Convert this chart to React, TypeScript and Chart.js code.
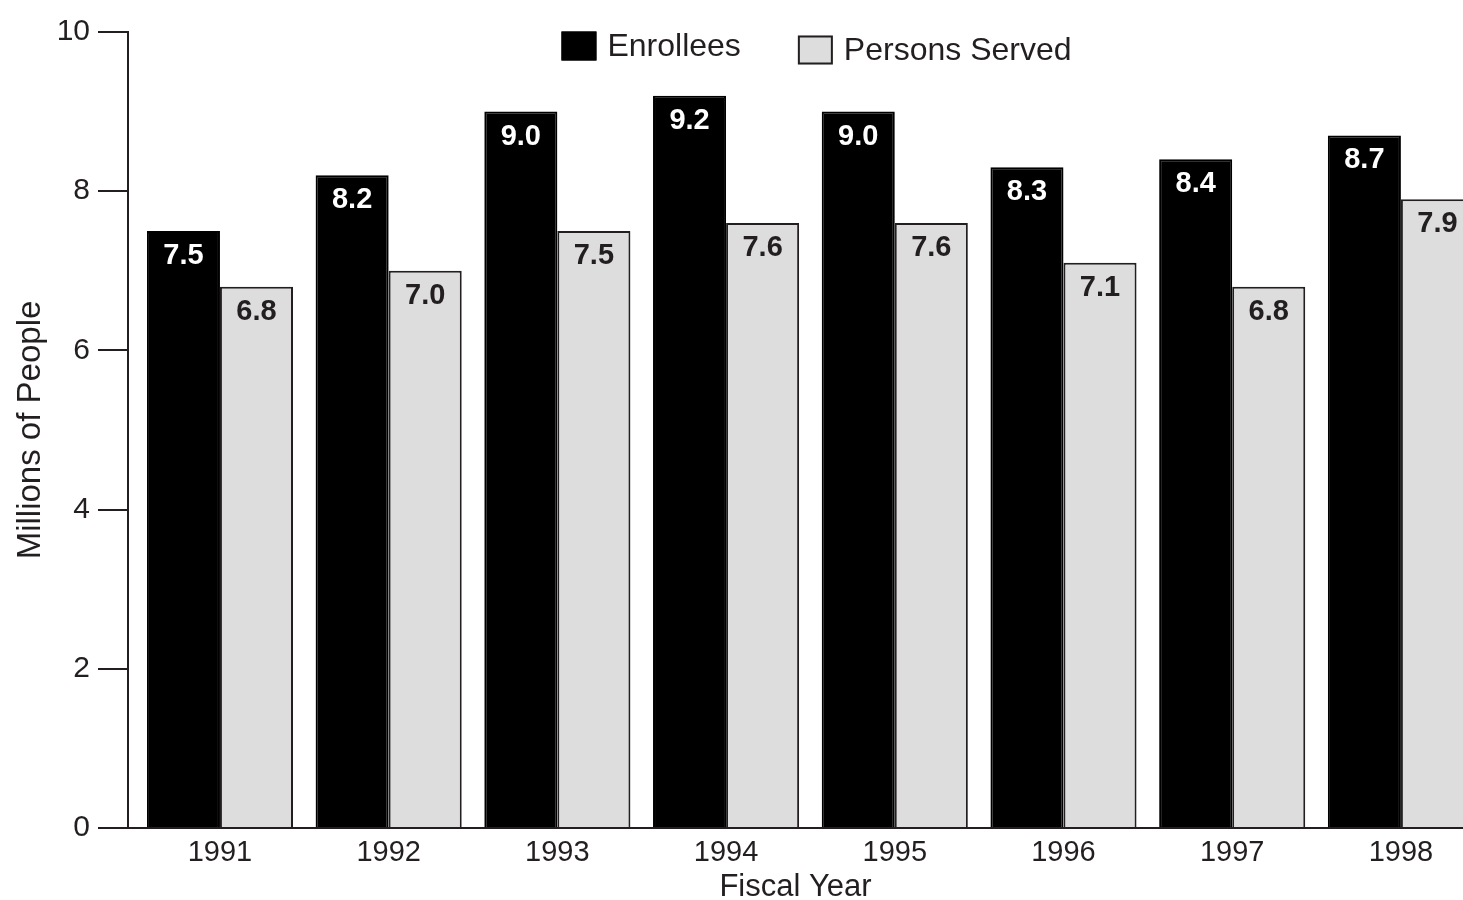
import React, { useEffect, useRef } from "react";
import { Chart, registerables } from "chart.js";

Chart.register(...registerables);

// ---- data ----
const years = [1991, 1992, 1993, 1994, 1995, 1996, 1997, 1998];
const enrollees = [7.5, 8.2, 9.0, 9.2, 9.0, 8.3, 8.4, 8.7];
const personsServed = [6.8, 7.0, 7.5, 7.6, 7.6, 7.1, 6.8, 7.9];
const seriesNames = ["Enrollees", "Persons Served"];
const yAxisTitle = "Millions of People";
const xAxisTitle = "Fiscal Year";

const FONT = '"Liberation Sans", Arial, Helvetica, sans-serif';
const INK = "#231f20";
const GRAY = "#dddddd";

const legendPlugin = {
  id: "topLegend",
  afterDraw(chart: any) {
    const { ctx, chartArea } = chart;
    ctx.save();
    ctx.font = `32px ${FONT}`;
    const box = 35;
    const boxH = 29;
    const gap = 11;
    const itemGap = 57;
    const items = chart.data.datasets.map((ds: any) => ({
      label: ds.label,
      fill: ds.backgroundColor,
      stroke: ds.borderColor,
      w: ctx.measureText(ds.label).width,
    }));
    const total =
      items.reduce((s: number, it: any) => s + box + gap + it.w, 0) +
      itemGap * (items.length - 1);
    let x = (chartArea.left + chartArea.right) / 2 + 21 - total / 2;
    const cy = chartArea.top + 14;
    items.forEach((it: any, i: number) => {
      const yc = cy + i * 4;
      ctx.fillStyle = it.fill;
      ctx.fillRect(x, yc - boxH / 2, box, boxH);
      ctx.lineWidth = 2;
      ctx.strokeStyle = i === 0 ? it.fill : INK;
      ctx.strokeRect(x + 1, yc - boxH / 2 + 1, box - 2, boxH - 2);
      ctx.fillStyle = INK;
      ctx.textAlign = "left";
      ctx.textBaseline = "middle";
      ctx.fillText(it.label, x + box + gap, yc + 1);
      x += box + gap + it.w + itemGap;
    });
    ctx.restore();
  },
};

const valueLabelPlugin = {
  id: "valueLabels",
  afterDatasetsDraw(chart: any) {
    const { ctx } = chart;
    ctx.save();
    ctx.font = `bold 29px ${FONT}`;
    ctx.textAlign = "center";
    ctx.textBaseline = "middle";
    chart.data.datasets.forEach((ds: any, di: number) => {
      const meta = chart.getDatasetMeta(di);
      ctx.fillStyle = di === 0 ? "#ffffff" : INK;
      meta.data.forEach((bar: any, i: number) => {
        const v = ds.data[i].y as number;
        ctx.fillText(v.toFixed(1), bar.x, bar.y + 25);
      });
    });
    ctx.restore();
  },
};

export default function App() {
  const ref = useRef<HTMLCanvasElement>(null);

  useEffect(() => {
    document.body.style.margin = "0";
    Chart.defaults.font.family = FONT;
    const canvas = ref.current;
    if (!canvas) return;
    const chart = new Chart(canvas, {
      type: "bar",
      data: {
        datasets: [
          {
            label: seriesNames[0],
            data: years.map((y, i) => ({ x: y, y: enrollees[i] })),
            backgroundColor: "#000000",
            borderColor: "#000000",
            borderWidth: 2,
          },
          {
            label: seriesNames[1],
            data: years.map((y, i) => ({ x: y, y: personsServed[i] })),
            backgroundColor: GRAY,
            borderColor: INK,
            borderWidth: 2,
          },
        ],
      },
      plugins: [legendPlugin, valueLabelPlugin],
      options: {
        responsive: false,
        animation: false,
        devicePixelRatio: 1,
        layout: { padding: { top: 32, left: 0, right: 0, bottom: 0 } },
        datasets: {
          bar: { categoryPercentage: 0.866, barPercentage: 1 },
        },
        plugins: {
          legend: { display: false },
          tooltip: { enabled: false },
        },
        scales: {
          x: {
            type: "linear",
            offset: false,
            min: 1990.455,
            max: 1998.368,
            afterBuildTicks: (scale: any) => {
              scale.ticks = years.map((v) => ({ value: v }));
            },
            afterFit: (scale: any) => {
              scale.height = 72;
            },
            grid: { display: false, offset: false, drawTicks: false, tickLength: 0 },
            border: { display: true, color: INK, width: 2 },
            ticks: {
              autoSkip: false,
              maxRotation: 0,
              padding: 8,
              color: INK,
              font: { size: 29 },
              callback: (v: any) => String(v),
            },
            title: {
              display: true,
              text: xAxisTitle,
              color: INK,
              font: { size: 31, lineHeight: 0.8 },
              padding: { top: 0, bottom: 0 },
            },
          },
          y: {
            type: "linear",
            min: 0,
            max: 10,
            afterFit: (scale: any) => {
              scale.width = 128;
            },
            grid: {
              display: true,
              drawOnChartArea: false,
              drawTicks: true,
              tickLength: 30,
              color: INK,
              lineWidth: 2,
            },
            border: { display: true, color: INK, width: 2 },
            ticks: {
              stepSize: 2,
              padding: 8,
              color: INK,
              font: { size: 30 },
            },
            title: {
              display: true,
              text: yAxisTitle,
              color: INK,
              font: { size: 33 },
              padding: { top: 11, bottom: 0 },
            },
          },
        },
      } as any,
    });
    return () => chart.destroy();
  }, []);

  return (
    <div style={{ width: 1463, height: 900 }}>
      <canvas
        ref={ref}
        width={1463}
        height={900}
        style={{ display: "block", width: 1463, height: 900 }}
      />
    </div>
  );
}
